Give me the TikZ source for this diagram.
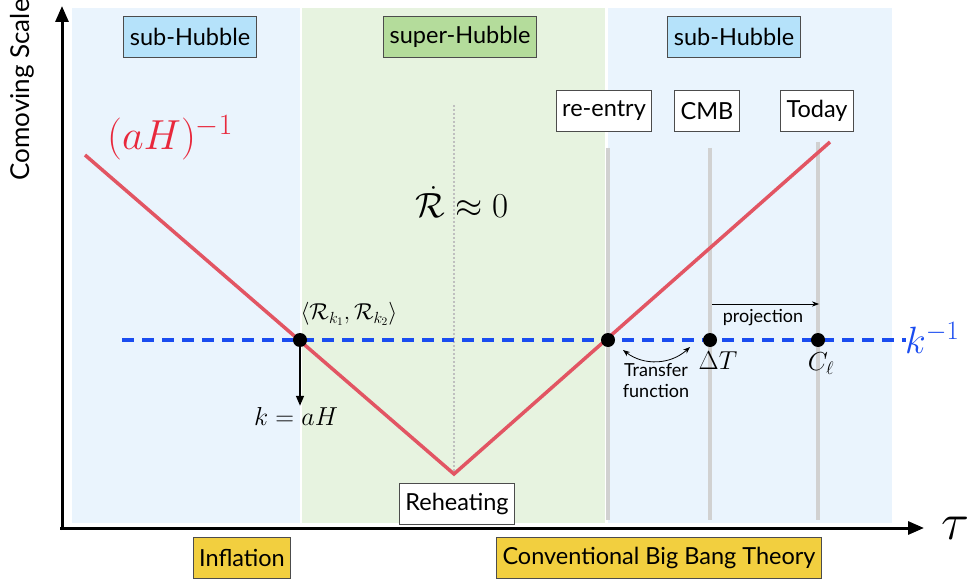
\documentclass[tikz,border=0pt]{standalone}
\usepackage{fix-cm}
\usepackage{fontspec}
\setmainfont{Lato}
\usetikzlibrary{arrows.meta}

\definecolor{skyband}{HTML}{EAF4FD}
\definecolor{greenband}{HTML}{E7F3E0}
\definecolor{skytag}{HTML}{B5E2FA}
\definecolor{greentag}{HTML}{B4DC9B}
\definecolor{yellowtag}{HTML}{F2CF3F}
\definecolor{hubred}{HTML}{E25563}
\definecolor{hubtext}{HTML}{E8283C}
\definecolor{kblue}{HTML}{1A4CF0}

\tikzset{
  tag/.style={draw=black!70, line width=0.8pt, inner xsep=6pt, minimum height=41pt, font=\fontsize{23.5}{26}\selectfont},
  epoch/.style={tag, fill=white},
  dot/.style={circle, fill=black, minimum size=14pt, inner sep=0pt},
  timeline/.style={line width=4pt, black!18},
  small/.style={font=\fontsize{18}{21}\selectfont, inner sep=1pt},
  eq/.style={font=\fontsize{26}{28}\selectfont, inner sep=1pt},
}

\begin{document}
\begin{tikzpicture}[x=1pt, y=-1pt]
\useasboundingbox (0,0) rectangle (972,580);
% bands
\fill[skyband] (72,8) rectangle (300,523);
\fill[greenband] (302,8) rectangle (605,523);
\fill[skyband] (608,8) rectangle (892,523);
% axes
\draw[line width=3pt, -{Triangle[length=16pt,width=13pt]}] (62,530) -- (62,6);
\draw[line width=3pt, -{Triangle[length=16pt,width=13pt]}] (60,528) -- (924,528);
\node[rotate=90, anchor=west, font=\fontsize{26}{28}\selectfont] (ylab) at (22,184) {Comoving Scale};
\node[font=\fontsize{52}{54}\selectfont, inner sep=0pt] (tau) at (955,528) {$\tau$};
% regime tags
\node[tag, fill=skytag] (h1) at (190,37) {sub-Hubble};
\node[tag, fill=greentag] (h2) at (460,37) {super-Hubble};
\node[tag, fill=skytag] (h3) at (734,37) {sub-Hubble};
\node[tag, fill=yellowtag] (e1) at (242,558) {Inflation};
\node[tag, fill=yellowtag] (e2) at (659,558) {Conventional Big Bang Theory};
% time markers
\draw[black!25, line width=2pt, dotted] (454,105) -- (454,474);
\draw[timeline] (608,148) -- (608,520);
\draw[timeline] (710,148) -- (710,520);
\draw[timeline] (818,142) -- (818,520);
\node[epoch] (t1) at (604,111) {re-entry};
\node[epoch] (t2) at (707,111) {CMB};
\node[epoch] (t3) at (817,111) {Today};
\node[epoch] (t0) at (457,504) {Reheating};
% horizon
\coordinate (r1) at (85,155);
\coordinate (r2) at (454,474);
\coordinate (r3) at (830,142);
\draw[hubred, line width=3.5pt] (r1) -- (r2) -- (r3);
\node[hubtext, font=\fontsize{42}{44}\selectfont] (hl) at (170,138) {$(aH)^{-1}$};
% mode
\coordinate (k1) at (122,340);
\coordinate (k2) at (906,340);
\draw[kblue, line width=4pt, dash pattern=on 12pt off 8pt] (k1) -- (k2);
\node[kblue, anchor=west, font=\fontsize{38}{40}\selectfont, inner sep=0pt] (kl) at (905,338) {$k^{-1}$};
\node[dot] (d1) at (300,340) {};
\node[dot] (d2) at (608,340) {};
\node[dot] (d3) at (710,340) {};
\node[dot] (d4) at (818,340) {};
\node[font=\fontsize{23}{25}\selectfont, inner sep=1pt] (corr) at (349,314) {$\langle\mathcal{R}_{k_1},\mathcal{R}_{k_2}\rangle$};
\node[font=\fontsize{35}{37}\selectfont] (rdot) at (462,202) {$\dot{\mathcal{R}}\approx 0$};
\node[eq] (kah) at (296,416) {$k=aH$};
\draw[line width=1.5pt, -{Triangle[length=10pt,width=8pt]}] (d1) -- (d1 |- kah.north);
\node[eq] (dT) at (718,361) {$\Delta T$};
\node[eq] (cl) at (821,364) {$C_\ell$};
% transfer and projection
\coordinate (tf1) at (623,350);
\coordinate (tf2) at (690,347);
\draw[line width=0.8pt, {Stealth[length=7pt]}-{Stealth[length=7pt]}] (tf1) to[bend right=40] (tf2);
\node[small, align=center] (tf) at (656,381) {Transfer\\function};
\coordinate (p1) at (712,304);
\coordinate (p2) at (819,304);
\draw[line width=0.8pt, -{Stealth[length=7pt]}] (p1) -- (p2);
\node[small] (pl) at (763,318) {projection};
\end{tikzpicture}
\end{document}
